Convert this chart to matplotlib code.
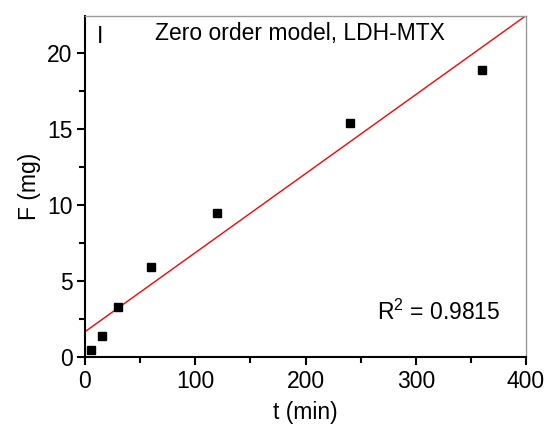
import numpy as np
import matplotlib.pyplot as plt
from matplotlib.ticker import MultipleLocator

plt.rcParams['font.family'] = ['Liberation Sans', 'DejaVu Sans']

# release data, LDH-MTX
t = [5, 15, 30, 60, 120, 240, 360]
F = [0.43, 1.36, 3.31, 5.92, 9.5, 15.43, 18.88]

# zero order fit
k, b = np.polyfit(t, F, 1)
t_fit = np.array([0, 400])

fig = plt.figure(figsize=(5.49, 4.32), dpi=100)
ax = fig.add_axes([85 / 549, 1 - 357 / 432, 441 / 549, 341 / 432])

ax.plot(t_fit, k * t_fit + b, color='red', lw=1)
ax.plot(t, F, 's', color='black', ms=5.2)

ax.set_xlim(0, 400)
ax.set_ylim(0, 22.45)
ax.xaxis.set_major_locator(MultipleLocator(100))
ax.xaxis.set_minor_locator(MultipleLocator(50))
ax.yaxis.set_major_locator(MultipleLocator(5))
ax.yaxis.set_minor_locator(MultipleLocator(2.5))
ax.tick_params(which='both', direction='out', width=1.5, labelsize=16.5, pad=3)
ax.tick_params(which='major', length=6)
ax.tick_params(which='minor', length=4)

for s in ['left', 'bottom']:
    ax.spines[s].set_linewidth(1.5)
for s in ['top', 'right']:
    ax.spines[s].set_color('#999999')
    ax.spines[s].set_linewidth(1)

ax.set_xlabel('t (min)', fontsize=16.5, labelpad=6)
ax.set_ylabel('F (mg)', fontsize=16.5, labelpad=4)

ax.text(0.027, 0.975, 'I', transform=ax.transAxes, fontsize=16.5, va='top')
ax.text(0.487, 0.95, 'Zero order model, LDH-MTX', transform=ax.transAxes,
        fontsize=16.5, va='center', ha='center')
ax.text(0.941, 0.13, 'R$^{\\mathregular{2}}$ = 0.9815', transform=ax.transAxes,
        fontsize=16.5, ha='right', va='center')

plt.savefig('out.png')
